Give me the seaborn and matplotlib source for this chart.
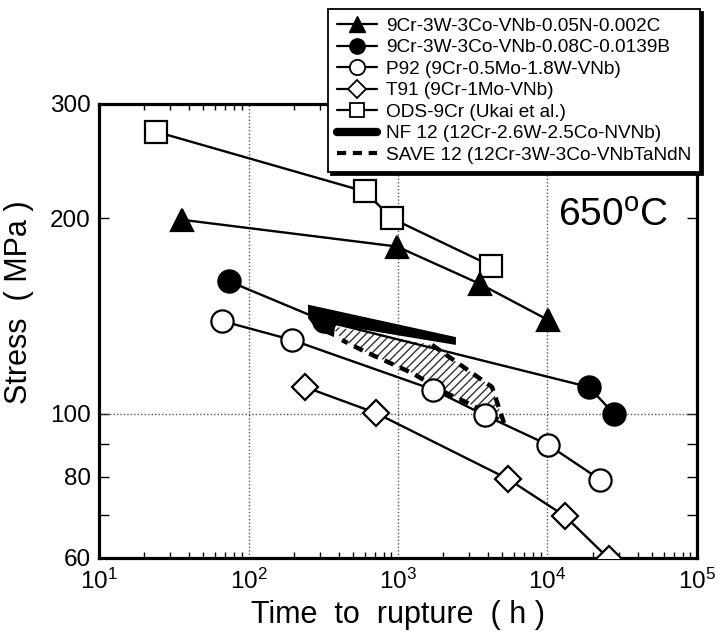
import matplotlib
matplotlib.use("Agg")
import matplotlib.pyplot as plt
import seaborn as sns
from matplotlib.lines import Line2D
from matplotlib.ticker import FixedLocator, FixedFormatter, NullFormatter

# Creep rupture data at 650 °C: time to rupture (h) vs. stress (MPa)
ods_time = [24, 600, 910, 4200]
ods_stress = [272, 220, 200, 169]

n_time = [36, 985, 3540, 10100]
n_stress = [199, 181, 158.5, 139.5]

b_time = [74, 320, 18900, 27900]
b_stress = [160, 139, 110, 100]

p92_time = [66.5, 195, 1715, 3820, 10100, 22500]
p92_stress = [139, 130, 109, 99.5, 89.6, 79.2]

t91_time = [239, 713, 5440, 13100, 25800]
t91_stress = [110, 100.3, 79.4, 69.6, 59.8]

# NF 12 scatter band (outline)
nf12_time = [250, 2440, 2440, 379, 373, 287, 250]
nf12_stress = [147.3, 131.3, 127.7, 137.1, 131.3, 134.6, 140.4]

# SAVE 12 scatter band (outline)
save_time = [362, 1690, 4256, 5117, 3126, 2096, 1242, 611, 422]
save_stress = [136.5, 127.7, 110, 96.8, 103.2, 107.7, 115.6, 124.5, 129.9]

labels = [
    "9Cr-3W-3Co-VNb-0.05N-0.002C",
    "9Cr-3W-3Co-VNb-0.08C-0.0139B",
    "P92 (9Cr-0.5Mo-1.8W-VNb)",
    "T91 (9Cr-1Mo-VNb)",
    "ODS-9Cr (Ukai et al.)",
    "NF 12 (12Cr-2.6W-2.5Co-NVNb)",
    "SAVE 12 (12Cr-3W-3Co-VNbTaNdN",
]

x_ticks = [1e1, 1e2, 1e3, 1e4, 1e5]
x_tick_labels = ["10$^1$", "10$^2$", "10$^3$", "10$^4$", "10$^5$"]
y_ticks = [60, 80, 100, 200, 300]
y_tick_labels = ["60", "80", "100", "200", "300"]
y_minor = [70, 90]

sns.set_style("ticks")
plt.rcParams["font.family"] = ["Liberation Sans", "DejaVu Sans"]
plt.rcParams["mathtext.default"] = "regular"
plt.rcParams["hatch.linewidth"] = 1.0
plt.rcParams["text.color"] = "black"
plt.rcParams["axes.labelcolor"] = "black"

fig = plt.figure(figsize=(7.23, 6.43), dpi=100)
ax = fig.add_axes([99 / 723, 1 - 558 / 643, 598 / 723, 454 / 643])
ax.set_xscale("log")
ax.set_yscale("log")
ax.set_xlim(1e1, 1e5)
ax.set_ylim(60, 300)

# reference grid lines
for xv in [1e2, 1e3, 1e4]:
    ax.axvline(xv, color="#555555", ls=(0, (1, 1.5)), lw=1.0, zorder=1)
ax.axhline(100, color="#555555", ls=(0, (1, 1.5)), lw=1.0, zorder=1)

# scatter bands
ax.fill(save_time, save_stress, facecolor="white", edgecolor="#333333",
        hatch="////", linewidth=0, zorder=2)
ax.fill(nf12_time, nf12_stress, color="black", linewidth=0, zorder=3)
sns.lineplot(x=save_time[1:], y=save_stress[1:], sort=False, estimator=None,
             ax=ax, color="black", lw=3.2, dashes=False,
             linestyle=(0, (2.2, 1.6)), zorder=3)

ms = 16
common = dict(color="black", lw=1.7, markeredgecolor="black",
              markeredgewidth=1.6, sort=False, estimator=None, ax=ax, zorder=5)
sns.lineplot(x=ods_time, y=ods_stress, marker="s", markersize=ms,
             markerfacecolor="white", **common)
sns.lineplot(x=n_time, y=n_stress, marker="^", markersize=ms,
             markerfacecolor="black", **common)
sns.lineplot(x=b_time, y=b_stress, marker="o", markersize=ms,
             markerfacecolor="black", **common)
sns.lineplot(x=p92_time, y=p92_stress, marker="o", markersize=ms,
             markerfacecolor="white", **common)
sns.lineplot(x=t91_time, y=t91_stress, marker="D", markersize=ms - 3,
             markerfacecolor="white", **common)

# axes styling
for sp in ax.spines.values():
    sp.set_linewidth(2.3)
    sp.set_color("black")
    sp.set_visible(True)

ax.xaxis.set_major_locator(FixedLocator(x_ticks))
ax.xaxis.set_major_formatter(FixedFormatter(x_tick_labels))
ax.xaxis.set_minor_formatter(NullFormatter())
ax.yaxis.set_major_locator(FixedLocator(y_ticks))
ax.yaxis.set_major_formatter(FixedFormatter(y_tick_labels))
ax.yaxis.set_minor_locator(FixedLocator(y_minor))
ax.yaxis.set_minor_formatter(NullFormatter())

ax.tick_params(axis="both", which="both", direction="in", top=True,
               right=True, colors="black", labelcolor="black",
               labelsize=17.5, width=1.0)
ax.tick_params(axis="x", which="major", length=0, pad=8)
ax.tick_params(axis="x", which="minor", length=4)
ax.tick_params(axis="y", which="both", length=7, pad=6)

ax.set_xlabel("Time  to  rupture  ( h )", fontsize=22, labelpad=4)
ax.set_ylabel("Stress  ( MPa )", fontsize=22, labelpad=6)
ax.yaxis.set_label_coords(-0.108, 0.564)

ax.text(0.768, 0.755, "650$^{o}$C", transform=ax.transAxes,
        fontsize=28, ha="left", va="center")

handles = [
    Line2D([], [], color="black", lw=1.6, marker="^", ms=11,
           mfc="black", mec="black"),
    Line2D([], [], color="black", lw=1.6, marker="o", ms=11,
           mfc="black", mec="black"),
    Line2D([], [], color="black", lw=1.6, marker="o", ms=11,
           mfc="white", mec="black", mew=1.3),
    Line2D([], [], color="black", lw=1.6, marker="D", ms=9,
           mfc="white", mec="black", mew=1.3),
    Line2D([], [], color="black", lw=1.6, marker="s", ms=10,
           mfc="white", mec="black", mew=1.3),
    Line2D([], [], color="black", lw=6),
    Line2D([], [], color="black", lw=3, linestyle=(0, (2.2, 1.6))),
]
leg = ax.legend(handles, labels, loc="upper right",
                bbox_to_anchor=(700 / 723, 1 - 9 / 643),
                bbox_transform=fig.transFigure, borderaxespad=0,
                fontsize=13.7, frameon=True, fancybox=False,
                framealpha=1, edgecolor="black", handlelength=2.1,
                handletextpad=0.5, labelspacing=0.22, borderpad=0.45,
                shadow={"color": "black", "alpha": 1})
leg.get_frame().set_linewidth(1.3)
leg.set_zorder(10)
for t in leg.get_texts():
    t.set_color("black")

fig.savefig("out.png", dpi=100)
